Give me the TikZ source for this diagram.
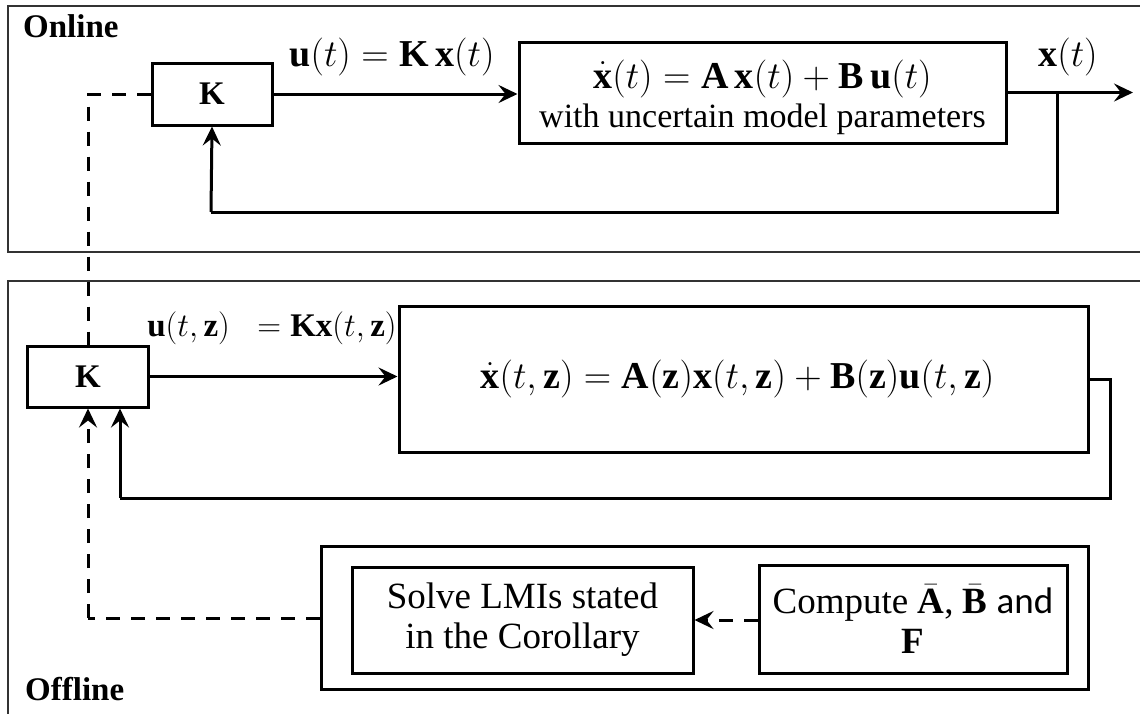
\RequirePackage{fix-cm}
\documentclass[tikz,border=0pt]{standalone}
\usepackage{fontspec}
\setmainfont{Liberation Serif}
\newfontfamily\andfont{Carlito}
\usetikzlibrary{arrows.meta}

\begin{document}
\begin{tikzpicture}[x=1pt,y=-1pt,
  frame/.style={draw=black!80, line width=1.8pt},
  blk/.style={draw, line width=3pt, inner sep=0pt, align=center},
  lbl/.style={inner sep=0pt},
  eqfont/.style={font=\fontsize{38}{44}\selectfont},
  tag/.style={inner sep=0pt, anchor=base west, font=\fontsize{33}{38}\selectfont\bfseries},
  line/.style={line width=3pt},
  wire/.style={line, -{Stealth[length=19pt,width=18pt,inset=7pt]}},
  dashwire/.style={wire, dash pattern=on 14pt off 11pt},
  dashline/.style={line, dash pattern=on 14pt off 11pt}]
\useasboundingbox (0,0) rectangle (1140,713);
\clip (0,0) rectangle (1140,713);

% section frames
\draw[frame] (8,6) rectangle (1160,252);
\draw[frame] (8,281) rectangle (1160,730);
\node[tag] (online) at (23,37) {Online};
\node[tag] (offline) at (25,700) {Offline};

% online loop
\node[blk, minimum width=120pt, minimum height=62pt,
  font=\fontsize{33}{38}\selectfont] (k1) at (212,94) {$\mathbf{K}$};
\node[blk, minimum width=487pt, minimum height=101pt] (p1) at (762.5,92.5) {};
\node[lbl, eqfont] (p1eq) at ([yshift=14pt]p1.center)
  {$\dot{\mathbf{x}}(t) = \mathbf{A}\,\mathbf{x}(t) + \mathbf{B}\,\mathbf{u}(t)$};
\node[lbl, font=\fontsize{34}{40}\selectfont] (p1txt) at ([yshift=-27pt]p1.center)
  {with uncertain model parameters};
\node[lbl, eqfont] (u1) at (392,57)
  {$\mathbf{u}(t) = \mathbf{K}\,\mathbf{x}(t)$};
\node[lbl, eqfont] (x1) at (1068,57) {$\mathbf{x}(t)$};
\coordinate (o1) at (1133,92.5);
\coordinate (b1) at (1057,92.5);
\coordinate (c1) at (1057,212);
\coordinate (d1) at (211,212);

\draw[wire] (k1.east) -- (p1.west |- k1.east);
\draw[wire] (p1.east |- o1) -- (o1);
\draw[line] (b1) -- (c1) -- (d1);
\draw[wire] (d1) -- (k1.south);

% offline loop
\node[blk, minimum width=121pt, minimum height=61pt,
  font=\fontsize{33}{38}\selectfont] (k2) at (88,376.5) {$\mathbf{K}$};
\node[blk, minimum width=689pt, minimum height=146pt] (p2) at (743.5,379) {};
\node[lbl, eqfont] (p2eq) at ([xshift=-6pt]p2.center)
  {$\dot{\mathbf{x}}(t,\mathbf{z}) = \mathbf{A}(\mathbf{z})\mathbf{x}(t,\mathbf{z}) + \mathbf{B}(\mathbf{z})\mathbf{u}(t,\mathbf{z})$};
\node[lbl, font=\fontsize{33}{38}\selectfont] (u2) at (272,328)
  {$\mathbf{u}(t,\mathbf{z})\;\;= \mathbf{Kx}(t,\mathbf{z})$};
\coordinate (e2) at (1110,379);
\coordinate (f2) at (1110,498);
\coordinate (g2) at (120,498);

\draw[wire] (k2.east) -- (p2.west |- k2.east);
\draw[line] (p2.east) -- (e2) -- (f2) -- (g2);
\draw[wire] (g2) -- (g2 |- k2.south);

% offline synthesis
\node[draw, line width=3pt, minimum width=767pt, minimum height=143pt] (syn) at (704.5,617.5) {};
\node[blk, minimum width=341pt, minimum height=106pt,
  font=\fontsize{37}{40}\selectfont] (lmi) at (522.5,620)
  {Solve LMIs stated\\in the Corollary};
\node[blk, minimum width=308pt, minimum height=108pt,
  font=\fontsize{37}{40}\selectfont] (cmp) at (913,619)
  {Compute $\bar{\mathbf{A}}$, $\bar{\mathbf{B}}$ {\andfont and}\\$\mathbf{F}$};
\coordinate (h2) at (88,618);

\draw[dashwire] (cmp.west |- lmi.east) -- (lmi.east);
\draw[dashline] (syn.west |- h2) -- (h2);
\draw[dashwire] (h2) -- (k2.south);

% gain transfer from offline to online
\coordinate (j1) at (88,94);
\draw[dashline] (k1.west) -- (j1) -- (k2.north);
\end{tikzpicture}
\end{document}
